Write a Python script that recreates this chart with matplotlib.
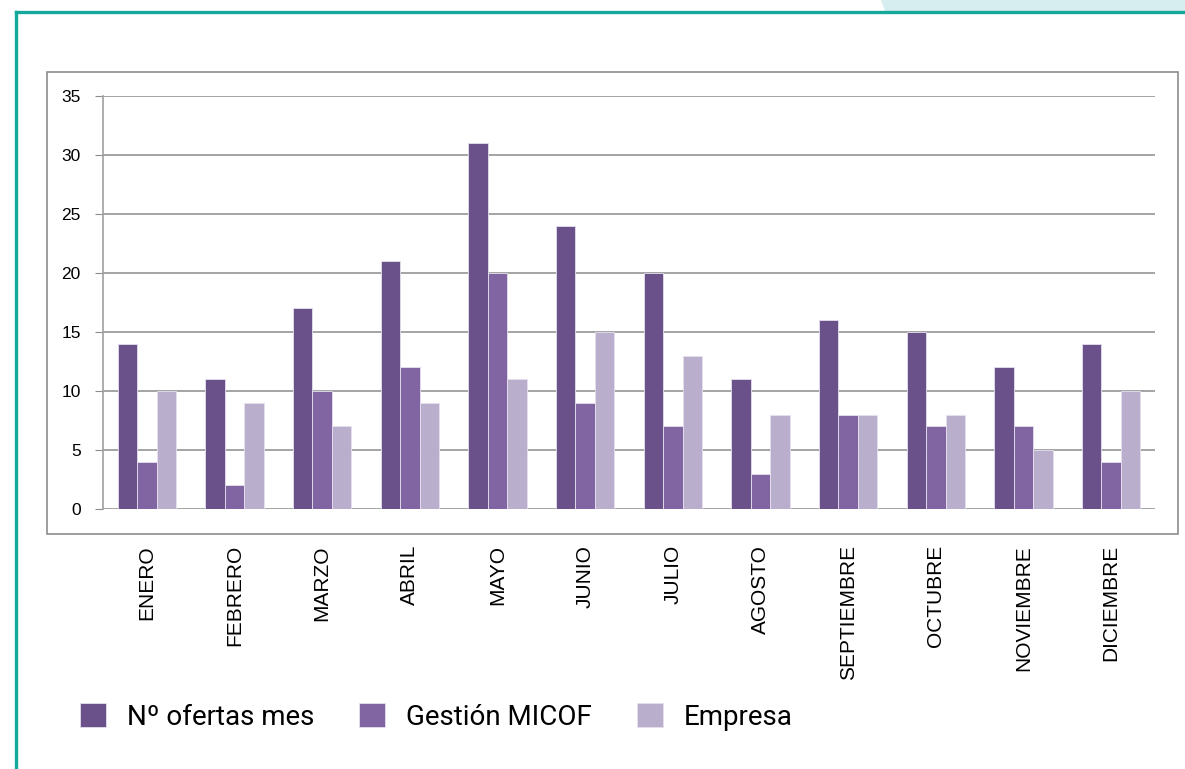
import matplotlib
matplotlib.use("Agg")
import matplotlib.pyplot as plt
from matplotlib.patches import Rectangle, Polygon
from matplotlib.lines import Line2D
import numpy as np

months = ["ENERO", "FEBRERO", "MARZO", "ABRIL", "MAYO", "JUNIO", "JULIO",
          "AGOSTO", "SEPTIEMBRE", "OCTUBRE", "NOVIEMBRE", "DICIEMBRE"]
ofertas = [14, 11, 17, 21, 31, 24, 20, 11, 16, 15, 12, 14]
gestion = [4, 2, 10, 12, 20, 9, 7, 3, 8, 7, 7, 4]
empresa = [10, 9, 7, 9, 11, 15, 13, 8, 8, 8, 5, 10]
series_names = ["Nº ofertas mes", "Gestión MICOF", "Empresa"]
colors = ["#6A5189", "#8165A3", "#B9AFCC"]
yticks = [0, 5, 10, 15, 20, 25, 30, 35]

W, H = 1185, 769
fig = plt.figure(figsize=(W / 100, H / 100), dpi=100)

# decorative background elements
fig.patches.append(Polygon([[881 / W, 1], [1, 1], [1, 1 - 11 / H], [885 / W, 1 - 11 / H]],
                           closed=True, transform=fig.transFigure, facecolor="#D6EEF0",
                           edgecolor="none", zorder=0))
fig.lines.append(Line2D([16 / W, 1], [1 - 11.5 / H, 1 - 11.5 / H], transform=fig.transFigure,
                        color="#17A89C", lw=2.4, zorder=1))
fig.lines.append(Line2D([16 / W, 16 / W], [1 - 11.5 / H, 0], transform=fig.transFigure,
                        color="#17A89C", lw=2.4, zorder=1))
fig.patches.append(Rectangle((47 / W, 1 - 534 / H), (1178 - 47) / W, (534 - 72) / H,
                             transform=fig.transFigure, facecolor="none",
                             edgecolor="#8C8C8C", lw=1.2, zorder=1))

ax = fig.add_axes([103 / W, 1 - 509 / H, (1155 - 103) / W, (509 - 96) / H])
x = np.arange(len(months))
bw = 0.222
handles = []
for i, (vals, c, name) in enumerate(zip([ofertas, gestion, empresa], colors, series_names)):
    b = ax.bar(x + (i - 1) * bw, vals, width=bw, color=c, edgecolor="#E6E0EE",
               linewidth=0.6, label=name, zorder=3)
    handles.append(b)

ax.set_xlim(-0.5, len(months) - 0.5)
ax.set_ylim(0, 35)
ax.set_yticks(yticks)
ax.set_yticklabels([str(v) for v in yticks], fontsize=12.5, family="Liberation Sans")
ax.yaxis.grid(True, color="#8C8C8C", lw=1.1, zorder=0)
ax.set_xticks(x)
ax.set_xticklabels(months, rotation=90, fontsize=15, family="Liberation Sans",
                   va="top", ha="center")
ax.tick_params(axis="x", length=0, pad=26)
ax.tick_params(axis="y", length=6, color="#8C8C8C", pad=10)
for s in ["top", "right", "bottom"]:
    ax.spines[s].set_visible(False)
ax.spines["left"].set_color("#A0A0A0")
ax.spines["left"].set_linewidth(1.2)

leg = fig.legend(handles=handles, labels=series_names, loc="center left",
                 bbox_to_anchor=(80 / W, 1 - 717 / H), ncol=3, frameon=False,
                 prop={"family": "Roboto", "size": 20}, borderpad=0, borderaxespad=0,
                 handlelength=0.95, handleheight=0.95, handletextpad=0.75,
                 columnspacing=1.6)

fig.savefig("out.png", dpi=100)
